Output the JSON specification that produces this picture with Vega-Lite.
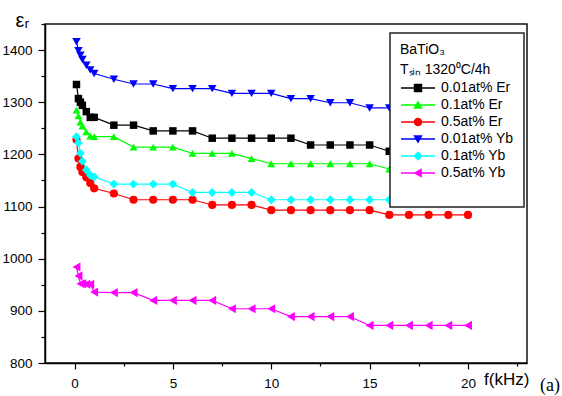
{
  "$schema": "https://vega.github.io/schema/vega-lite/v6.json",
  "width": 482,
  "height": 339,
  "autosize": {"type": "none"},
  "padding": {"left": 45, "top": 24, "right": 35, "bottom": 33},
  "background": "white",
  "title": {
    "text": "(a)",
    "orient": "bottom",
    "anchor": "end",
    "frame": "group",
    "font": "Liberation Serif",
    "fontSize": 18,
    "fontWeight": "normal",
    "color": "black",
    "dx": 33,
    "dy": -15,
    "offset": 2
  },
  "data": {
    "values": [
      {"s": "0.01at% Er", "f": 0.1, "e": 1334}, {"s": "0.01at% Er", "f": 0.2, "e": 1307},
      {"s": "0.01at% Er", "f": 0.3, "e": 1300}, {"s": "0.01at% Er", "f": 0.4, "e": 1294},
      {"s": "0.01at% Er", "f": 0.6, "e": 1282}, {"s": "0.01at% Er", "f": 0.8, "e": 1271},
      {"s": "0.01at% Er", "f": 1, "e": 1271}, {"s": "0.01at% Er", "f": 2, "e": 1256},
      {"s": "0.01at% Er", "f": 3, "e": 1256}, {"s": "0.01at% Er", "f": 4, "e": 1245},
      {"s": "0.01at% Er", "f": 5, "e": 1245}, {"s": "0.01at% Er", "f": 6, "e": 1245},
      {"s": "0.01at% Er", "f": 7, "e": 1231}, {"s": "0.01at% Er", "f": 8, "e": 1231},
      {"s": "0.01at% Er", "f": 9, "e": 1231}, {"s": "0.01at% Er", "f": 10, "e": 1231},
      {"s": "0.01at% Er", "f": 11, "e": 1231}, {"s": "0.01at% Er", "f": 12, "e": 1218},
      {"s": "0.01at% Er", "f": 13, "e": 1218}, {"s": "0.01at% Er", "f": 14, "e": 1218},
      {"s": "0.01at% Er", "f": 15, "e": 1218}, {"s": "0.01at% Er", "f": 16, "e": 1206},

      {"s": "0.1at% Er", "f": 0.1, "e": 1285}, {"s": "0.1at% Er", "f": 0.2, "e": 1274},
      {"s": "0.1at% Er", "f": 0.3, "e": 1262}, {"s": "0.1at% Er", "f": 0.4, "e": 1254},
      {"s": "0.1at% Er", "f": 0.6, "e": 1243}, {"s": "0.1at% Er", "f": 0.8, "e": 1235},
      {"s": "0.1at% Er", "f": 1, "e": 1234}, {"s": "0.1at% Er", "f": 2, "e": 1234},
      {"s": "0.1at% Er", "f": 3, "e": 1214}, {"s": "0.1at% Er", "f": 4, "e": 1214},
      {"s": "0.1at% Er", "f": 5, "e": 1214}, {"s": "0.1at% Er", "f": 6, "e": 1202},
      {"s": "0.1at% Er", "f": 7, "e": 1202}, {"s": "0.1at% Er", "f": 8, "e": 1202},
      {"s": "0.1at% Er", "f": 9, "e": 1192}, {"s": "0.1at% Er", "f": 10, "e": 1182},
      {"s": "0.1at% Er", "f": 11, "e": 1182}, {"s": "0.1at% Er", "f": 12, "e": 1182},
      {"s": "0.1at% Er", "f": 13, "e": 1182}, {"s": "0.1at% Er", "f": 14, "e": 1182},
      {"s": "0.1at% Er", "f": 15, "e": 1182}, {"s": "0.1at% Er", "f": 16, "e": 1172},

      {"s": "0.5at% Er", "f": 0.1, "e": 1228}, {"s": "0.5at% Er", "f": 0.2, "e": 1192},
      {"s": "0.5at% Er", "f": 0.3, "e": 1176}, {"s": "0.5at% Er", "f": 0.4, "e": 1166},
      {"s": "0.5at% Er", "f": 0.6, "e": 1156}, {"s": "0.5at% Er", "f": 0.8, "e": 1145},
      {"s": "0.5at% Er", "f": 1, "e": 1135}, {"s": "0.5at% Er", "f": 2, "e": 1125},
      {"s": "0.5at% Er", "f": 3, "e": 1113}, {"s": "0.5at% Er", "f": 4, "e": 1113},
      {"s": "0.5at% Er", "f": 5, "e": 1113}, {"s": "0.5at% Er", "f": 6, "e": 1113},
      {"s": "0.5at% Er", "f": 7, "e": 1103}, {"s": "0.5at% Er", "f": 8, "e": 1103},
      {"s": "0.5at% Er", "f": 9, "e": 1103}, {"s": "0.5at% Er", "f": 10, "e": 1093},
      {"s": "0.5at% Er", "f": 11, "e": 1093}, {"s": "0.5at% Er", "f": 12, "e": 1093},
      {"s": "0.5at% Er", "f": 13, "e": 1093}, {"s": "0.5at% Er", "f": 14, "e": 1093},
      {"s": "0.5at% Er", "f": 15, "e": 1093}, {"s": "0.5at% Er", "f": 16, "e": 1084},
      {"s": "0.5at% Er", "f": 17, "e": 1084}, {"s": "0.5at% Er", "f": 18, "e": 1084},
      {"s": "0.5at% Er", "f": 19, "e": 1084}, {"s": "0.5at% Er", "f": 20, "e": 1084},

      {"s": "0.01at% Yb", "f": 0.1, "e": 1416}, {"s": "0.01at% Yb", "f": 0.2, "e": 1399},
      {"s": "0.01at% Yb", "f": 0.3, "e": 1390}, {"s": "0.01at% Yb", "f": 0.4, "e": 1382},
      {"s": "0.01at% Yb", "f": 0.6, "e": 1371}, {"s": "0.01at% Yb", "f": 0.8, "e": 1362},
      {"s": "0.01at% Yb", "f": 1, "e": 1355}, {"s": "0.01at% Yb", "f": 2, "e": 1344},
      {"s": "0.01at% Yb", "f": 3, "e": 1335}, {"s": "0.01at% Yb", "f": 4, "e": 1335},
      {"s": "0.01at% Yb", "f": 5, "e": 1326}, {"s": "0.01at% Yb", "f": 6, "e": 1326},
      {"s": "0.01at% Yb", "f": 7, "e": 1326}, {"s": "0.01at% Yb", "f": 8, "e": 1317},
      {"s": "0.01at% Yb", "f": 9, "e": 1317}, {"s": "0.01at% Yb", "f": 10, "e": 1317},
      {"s": "0.01at% Yb", "f": 11, "e": 1307}, {"s": "0.01at% Yb", "f": 12, "e": 1307},
      {"s": "0.01at% Yb", "f": 13, "e": 1299}, {"s": "0.01at% Yb", "f": 14, "e": 1299},
      {"s": "0.01at% Yb", "f": 15, "e": 1289}, {"s": "0.01at% Yb", "f": 16, "e": 1289},

      {"s": "0.1at% Yb", "f": 0.1, "e": 1234}, {"s": "0.1at% Yb", "f": 0.2, "e": 1222},
      {"s": "0.1at% Yb", "f": 0.3, "e": 1202}, {"s": "0.1at% Yb", "f": 0.4, "e": 1187},
      {"s": "0.1at% Yb", "f": 0.6, "e": 1170}, {"s": "0.1at% Yb", "f": 0.8, "e": 1160},
      {"s": "0.1at% Yb", "f": 1, "e": 1157}, {"s": "0.1at% Yb", "f": 2, "e": 1143},
      {"s": "0.1at% Yb", "f": 3, "e": 1143}, {"s": "0.1at% Yb", "f": 4, "e": 1143},
      {"s": "0.1at% Yb", "f": 5, "e": 1143}, {"s": "0.1at% Yb", "f": 6, "e": 1127},
      {"s": "0.1at% Yb", "f": 7, "e": 1127}, {"s": "0.1at% Yb", "f": 8, "e": 1127},
      {"s": "0.1at% Yb", "f": 9, "e": 1127}, {"s": "0.1at% Yb", "f": 10, "e": 1113},
      {"s": "0.1at% Yb", "f": 11, "e": 1113}, {"s": "0.1at% Yb", "f": 12, "e": 1113},
      {"s": "0.1at% Yb", "f": 13, "e": 1113}, {"s": "0.1at% Yb", "f": 14, "e": 1113},
      {"s": "0.1at% Yb", "f": 15, "e": 1113}, {"s": "0.1at% Yb", "f": 16, "e": 1113},

      {"s": "0.5at% Yb", "f": 0.1, "e": 984}, {"s": "0.5at% Yb", "f": 0.2, "e": 967},
      {"s": "0.5at% Yb", "f": 0.3, "e": 952}, {"s": "0.5at% Yb", "f": 0.4, "e": 952},
      {"s": "0.5at% Yb", "f": 0.6, "e": 951}, {"s": "0.5at% Yb", "f": 0.8, "e": 951},
      {"s": "0.5at% Yb", "f": 1, "e": 936}, {"s": "0.5at% Yb", "f": 2, "e": 935},
      {"s": "0.5at% Yb", "f": 3, "e": 935}, {"s": "0.5at% Yb", "f": 4, "e": 920},
      {"s": "0.5at% Yb", "f": 5, "e": 920}, {"s": "0.5at% Yb", "f": 6, "e": 920},
      {"s": "0.5at% Yb", "f": 7, "e": 920}, {"s": "0.5at% Yb", "f": 8, "e": 904},
      {"s": "0.5at% Yb", "f": 9, "e": 904}, {"s": "0.5at% Yb", "f": 10, "e": 904},
      {"s": "0.5at% Yb", "f": 11, "e": 889}, {"s": "0.5at% Yb", "f": 12, "e": 889},
      {"s": "0.5at% Yb", "f": 13, "e": 889}, {"s": "0.5at% Yb", "f": 14, "e": 889},
      {"s": "0.5at% Yb", "f": 15, "e": 872}, {"s": "0.5at% Yb", "f": 16, "e": 872},
      {"s": "0.5at% Yb", "f": 17, "e": 872}, {"s": "0.5at% Yb", "f": 18, "e": 872},
      {"s": "0.5at% Yb", "f": 19, "e": 872}, {"s": "0.5at% Yb", "f": 20, "e": 872}
    ]
  },
  "encoding": {
    "x": {
      "field": "f",
      "type": "quantitative",
      "scale": {"domain": [-1.5, 23], "nice": false, "zero": false},
      "axis": {
        "values": [0, 2.5, 5, 7.5, 10, 12.5, 15, 17.5, 20, 22.5],
        "labelExpr": "datum.value % 5 === 0 ? datum.label : ''",
        "tickSize": {"condition": {"test": "datum.value % 5 === 0", "value": 6}, "value": 3},
        "labelPadding": 7,
        "labelFlush": false,
        "labelOverlap": false,
        "grid": false,
        "title": "f(kHz)",
        "titleX": 438.5,
        "titleY": 21,
        "titleAlign": "left",
        "titleBaseline": "alphabetic",
        "titleFontSize": 17
      }
    },
    "y": {
      "field": "e",
      "type": "quantitative",
      "scale": {"domain": [800, 1450], "nice": false, "zero": false},
      "axis": {
        "values": [800, 850, 900, 950, 1000, 1050, 1100, 1150, 1200, 1250, 1300, 1350, 1400, 1450],
        "format": "d",
        "labelExpr": "datum.value % 100 === 0 ? datum.label : ''",
        "tickSize": {"condition": {"test": "datum.value % 100 === 0", "value": 7}, "value": 4},
        "labelPadding": 6,
        "labelFlush": false,
        "labelOverlap": false,
        "grid": false,
        "title": "εᵣ",
        "titleAngle": 0,
        "titleX": -30,
        "titleY": 2,
        "titleAlign": "left",
        "titleBaseline": "alphabetic",
        "titleFontSize": 20
      }
    }
  },
  "layer": [
    {
      "mark": {"type": "line", "strokeWidth": 1.2},
      "encoding": {
        "color": {
          "field": "s",
          "type": "nominal",
          "scale": {
            "domain": ["0.01at% Er", "0.1at% Er", "0.5at% Er", "0.01at% Yb", "0.1at% Yb", "0.5at% Yb"],
            "range": ["#000000", "#00ff00", "#ff0000", "#0000ff", "#00ffff", "#ff00ff"]
          },
          "legend": null
        },
        "detail": {"field": "s"}
      }
    },
    {
      "mark": {"type": "point", "filled": true, "opacity": 1},
      "encoding": {
        "color": {
          "field": "s",
          "type": "nominal",
          "scale": {
            "domain": ["0.01at% Er", "0.1at% Er", "0.5at% Er", "0.01at% Yb", "0.1at% Yb", "0.5at% Yb"],
            "range": ["#000000", "#00ff00", "#ff0000", "#0000ff", "#00ffff", "#ff00ff"]
          },
          "legend": null
        },
        "shape": {
          "field": "s",
          "type": "nominal",
          "scale": {
            "domain": ["0.01at% Er", "0.1at% Er", "0.5at% Er", "0.01at% Yb", "0.1at% Yb", "0.5at% Yb"],
            "range": ["square", "triangle-up", "circle", "triangle-down", "diamond", "triangle-left"]
          },
          "legend": null
        },
        "size": {
          "field": "s",
          "type": "nominal",
          "scale": {
            "domain": ["0.01at% Er", "0.1at% Er", "0.5at% Er", "0.01at% Yb", "0.1at% Yb", "0.5at% Yb"],
            "range": [56, 84, 70, 84, 90, 84]
          },
          "legend": null
        }
      }
    },
    {
      "data": {"values": []},
      "mark": {"type": "point", "filled": true, "opacity": 1},
      "encoding": {
        "color": {
          "field": "s",
          "type": "nominal",
          "scale": {
            "domain": ["0.01at% Er", "0.1at% Er", "0.5at% Er", "0.01at% Yb", "0.1at% Yb", "0.5at% Yb", " "],
            "range": ["#000000", "#00ff00", "#ff0000", "#0000ff", "#00ffff", "#ff00ff", "transparent"]
          },
          "legend": {
            "orient": "none",
            "legendX": 345,
            "legendY": 9,
            "title": ["BaTiO₃", "Tₛᵢₙ 1320⁰C/4h"],
            "titleFont": "Liberation Sans",
            "titleFontSize": 14,
            "titleFontWeight": "normal",
            "titleColor": "black",
            "titleLineHeight": 20,
            "titlePadding": 4,
            "labelFont": "Liberation Sans",
            "labelFontSize": 14,
            "labelColor": "black",
            "symbolSize": 100,
            "symbolStrokeWidth": 0,
            "symbolOffset": 11,
            "labelOffset": 16,
            "symbolOpacity": 1,
            "rowPadding": 3,
            "padding": 10,
            "strokeColor": "#222222",
            "fillColor": "white",
            "cornerRadius": 0
          }
        },
        "shape": {
          "field": "s",
          "type": "nominal",
          "scale": {
            "domain": ["0.01at% Er", "0.1at% Er", "0.5at% Er", "0.01at% Yb", "0.1at% Yb", "0.5at% Yb", " "],
            "range": [
              "M-3.4,-0.14H3.4V0.14H-3.4Z M-0.84,-0.84H0.84V0.84H-0.84Z",
              "M-3.4,-0.14H3.4V0.14H-3.4Z M0,-0.88L0.95,0.75L-0.95,0.75Z",
              "M-3.4,-0.14H3.4V0.14H-3.4Z M-0.85,0A0.85,0.85 0 0,1 0.85,0A0.85,0.85 0 0,1 -0.85,0Z",
              "M-3.4,-0.14H3.4V0.14H-3.4Z M-0.95,-0.75L0.95,-0.75L0,0.88Z",
              "M-3.4,-0.14H3.4V0.14H-3.4Z M-0.95,0L0,-0.95L0.95,0L0,0.95Z",
              "M-3.4,-0.14H3.4V0.14H-3.4Z M-0.88,0L0.75,-0.95L0.75,0.95Z",
              "M-0.1,-1.2H0.1V1.2H-0.1Z"
            ]
          }
        }
      }
    }
  ],
  "resolve": {"scale": {"color": "independent", "shape": "independent"}},
  "config": {
    "font": "Liberation Sans",
    "view": {"stroke": "#111111", "strokeWidth": 1.5},
    "axis": {
      "domainColor": "black",
      "domainWidth": 1.5,
      "tickColor": "black",
      "tickWidth": 1.2,
      "labelColor": "black",
      "labelFont": "Liberation Sans",
      "labelFontSize": 13.5,
      "titleColor": "black",
      "titleFont": "Liberation Sans",
      "titleFontWeight": "normal"
    },
    "legend": {"strokeWidth": 1.5}
  }
}
